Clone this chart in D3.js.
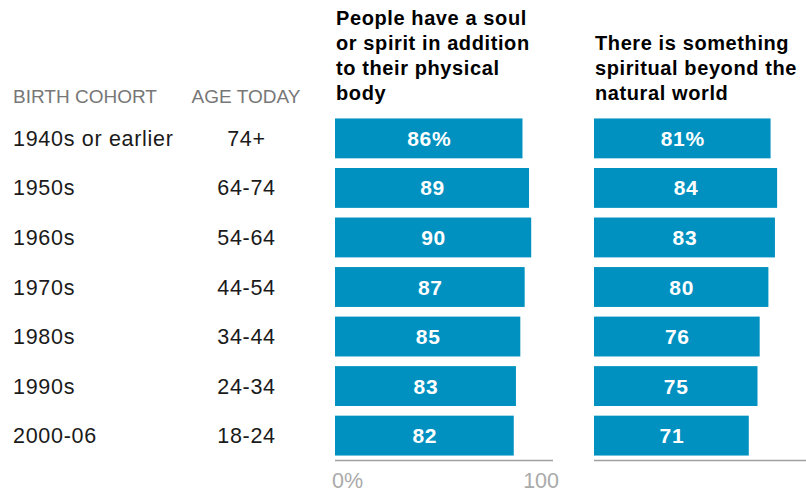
<!DOCTYPE html>
<html><head><meta charset="utf-8">
<script src="https://cdn.jsdelivr.net/npm/d3@7"></script>
<style>
body{margin:0;background:#fff;}
svg{display:block;}
</style></head>
<body>
<svg id="chart" width="806" height="493"></svg>
<script>
const cohorts = ["1940s or earlier","1950s","1960s","1970s","1980s","1990s","2000-06"];
const ages = ["74+","64-74","54-64","44-54","34-44","24-34","18-24"];
const soul = [86,89,90,87,85,83,82];
const spiritual = [81,84,83,80,76,75,71];
const titleSoul = ["People have a soul","or spirit in addition","to their physical","body"];
const titleSpiritual = ["There is something","spiritual beyond the","natural world"];
const tickLabels = ["0%","100"];

const svg = d3.select("#chart");
const FONT = "'Liberation Sans', Arial, sans-serif";
const BAR = "#0091c1";

const y = d3.scaleBand().domain(cohorts).range([113.5, 460.5]).paddingInner(0.195).paddingOuter(0.1);

// headers
svg.append("text").attr("x",13).attr("y",103).attr("font-family",FONT).attr("font-size",19)
  .attr("fill","#777").text("BIRTH COHORT");
svg.append("text").attr("x",246).attr("y",103).attr("text-anchor","middle").attr("font-family",FONT).attr("font-size",19)
  .attr("fill","#777").text("AGE TODAY");

// row labels
cohorts.forEach((c,i)=>{
  const cy = y(c)+y.bandwidth()/2;
  svg.append("text").attr("x",13).attr("y",cy+7.5).attr("font-family",FONT).attr("font-size",21.5)
    .attr("letter-spacing",0.7).attr("fill","#1a1a1a").text(c);
  svg.append("text").attr("x",246.5).attr("y",cy+7.5).attr("text-anchor","middle").attr("font-family",FONT).attr("font-size",21.5)
    .attr("letter-spacing",0.7).attr("fill","#1a1a1a").text(ages[i]);
});

function panel(x0, values, title, titleTop, showTicks, lineEnd){
  const x = d3.scaleLinear().domain([0,100]).range([x0, x0+218]);
  const t = svg.append("text").attr("font-family",FONT).attr("font-weight","bold").attr("font-size",20)
    .attr("letter-spacing",0.6).attr("fill","#000");
  title.forEach((l,i)=>{
    t.append("tspan").attr("x",x0+1).attr("y",titleTop+i*25).text(l);
  });
  svg.append("g").selectAll("rect").data(values).join("rect")
    .attr("x",x(0)).attr("y",(d,i)=>y(cohorts[i]))
    .attr("width",d=>x(d)-x(0)).attr("height",y.bandwidth()).attr("fill",BAR);
  svg.append("g").selectAll("text").data(values).join("text")
    .attr("x",d=>(x(0)+x(d))/2+0.5).attr("y",(d,i)=>y(cohorts[i])+y.bandwidth()/2+7.5)
    .attr("text-anchor","middle").attr("font-family",FONT).attr("font-weight","bold").attr("font-size",21)
    .attr("letter-spacing",0.7).attr("fill","#fff").text((d,i)=> i===0 ? d+"%" : d);
  svg.append("line").attr("x1",x(0)).attr("x2",lineEnd===undefined? x(100): lineEnd)
    .attr("y1",460.5).attr("y2",460.5).attr("stroke","#a0a0a0").attr("stroke-width",1.5);
  if(showTicks){
    svg.append("text").attr("x",x(0)-3).attr("y",488).attr("font-family",FONT).attr("font-size",21.5)
      .attr("fill","#aaa").text(tickLabels[0]);
    svg.append("text").attr("x",x(100)+6).attr("y",488).attr("text-anchor","end").attr("font-family",FONT).attr("font-size",21.5)
      .attr("fill","#aaa").text(tickLabels[1]);
  }
}
panel(335, soul, titleSoul, 25, true);
panel(594, spiritual, titleSpiritual, 50, false, 806);
</script>
</body></html>
